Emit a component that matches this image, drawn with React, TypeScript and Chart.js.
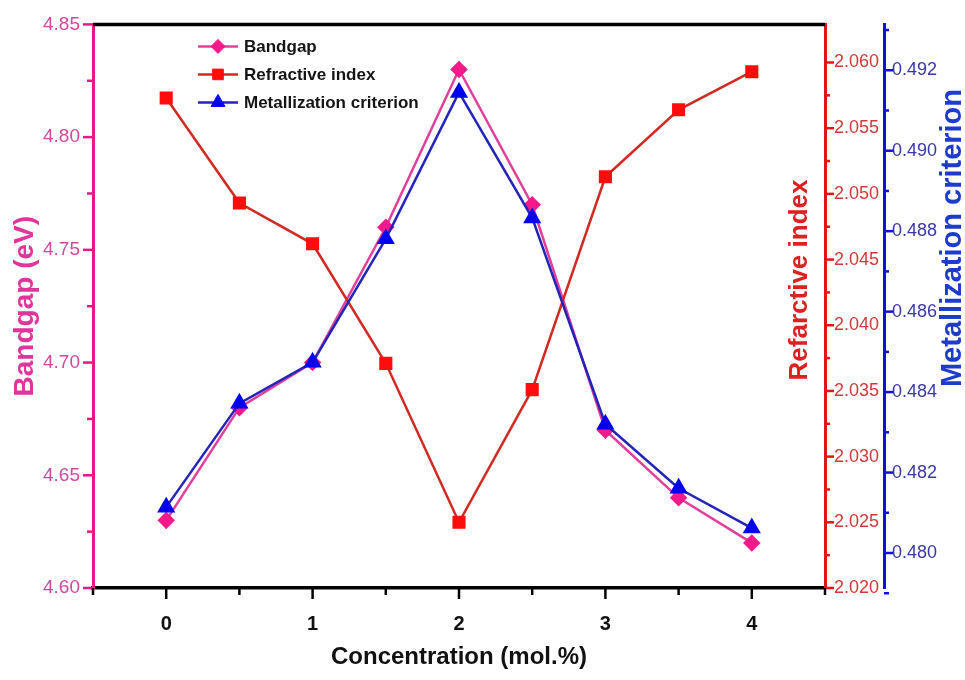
import React, { useEffect, useRef } from 'react';
import { Chart, registerables } from 'chart.js';
import { drawPoint } from 'chart.js/helpers';

Chart.register(...registerables);

// Measured values versus dopant concentration
const CONCENTRATION = [0, 0.5, 1, 1.5, 2, 2.5, 3, 3.5, 4];
const BANDGAP = [4.63, 4.68, 4.7, 4.76, 4.83, 4.77, 4.67, 4.64, 4.62];
const REFRACTIVE = [2.0573, 2.0493, 2.0462, 2.0371, 2.025, 2.0351, 2.0513, 2.0564, 2.0593];
const METALLIZATION = [0.48114, 0.48372, 0.48474, 0.48781, 0.49145, 0.48833, 0.4832, 0.48161, 0.48062];

// Axis tick positions
const X_TICKS = [0, 1, 2, 3, 4];
const BANDGAP_TICKS = [4.6, 4.65, 4.7, 4.75, 4.8, 4.85];
const REFRACTIVE_TICKS = [2.02, 2.025, 2.03, 2.035, 2.04, 2.045, 2.05, 2.055, 2.06];
const METALLIZATION_TICKS = [0.48, 0.482, 0.484, 0.486, 0.488, 0.49, 0.492];

const FONT = "'Liberation Sans', Arial, Helvetica, sans-serif";

const PINK = '#e8178a';
const PINK_LINE = '#e0409c';
const PINK_TEXT = '#cf4a9e';
const RED = '#e31414';
const RED_LINE = '#d02a22';
const RED_TEXT = '#d23a3a';
const BLUE = '#1212d6';
const BLUE_LINE = '#2424b8';
const BLUE_TEXT = '#3838a6';

const toPoints = (ys: number[]) => CONCENTRATION.map((x, i) => ({ x, y: ys[i] }));

const midpoints = (arr: number[]) => arr.slice(0, -1).map((v, i) => (v + arr[i + 1]) / 2);

// Outward tick marks (major + minor) for every axis
const tickMarks = {
  id: 'tickMarks',
  afterDraw(chart: any) {
    const ctx = chart.ctx;
    const { x, y, y1, y2 } = chart.scales;
    ctx.save();
    ctx.lineCap = 'butt';
    const vertical = (scale: any, values: number[], len: number, dir: number, color: string, edge: number) => {
      ctx.strokeStyle = color;
      ctx.lineWidth = 2.5;
      values.forEach((v) => {
        const py = scale.getPixelForValue(v);
        ctx.beginPath();
        ctx.moveTo(edge, py);
        ctx.lineTo(edge + dir * len, py);
        ctx.stroke();
      });
    };
    vertical(y, BANDGAP_TICKS, 10, -1, PINK, y.right);
    vertical(y, midpoints(BANDGAP_TICKS), 6, -1, PINK, y.right);
    vertical(y1, REFRACTIVE_TICKS, 9, 1, RED, y1.left);
    vertical(y1, midpoints(REFRACTIVE_TICKS), 5, 1, RED, y1.left);
    vertical(y2, METALLIZATION_TICKS, 9, 1, BLUE, y2.left);
    vertical(y2, [0.479, ...midpoints(METALLIZATION_TICKS), 0.493], 5, 1, BLUE, y2.left);

    ctx.strokeStyle = '#000';
    ctx.lineWidth = 2.5;
    const xMinor = [x.min, ...midpoints(X_TICKS), x.max];
    X_TICKS.forEach((v) => {
      const px = x.getPixelForValue(v);
      ctx.beginPath();
      ctx.moveTo(px, x.top);
      ctx.lineTo(px, x.top + 11);
      ctx.stroke();
    });
    xMinor.forEach((v) => {
      const px = x.getPixelForValue(v);
      ctx.beginPath();
      ctx.moveTo(px, x.top);
      ctx.lineTo(px, x.top + 7);
      ctx.stroke();
    });

    // top frame line
    const area = chart.chartArea;
    ctx.lineWidth = 3.5;
    ctx.beginPath();
    ctx.moveTo(area.left, area.top);
    ctx.lineTo(area.right, area.top);
    ctx.stroke();
    ctx.restore();
  },
};

// Rotated titles for the two right-hand axes
const rightTitles = {
  id: 'rightTitles',
  afterDraw(chart: any) {
    const ctx = chart.ctx;
    const { y1, y2 } = chart.scales;
    const draw = (text: string, cx: number, cy: number, color: string, size: number) => {
      ctx.save();
      ctx.translate(cx, cy);
      ctx.rotate(-Math.PI / 2);
      ctx.font = `bold ${size}px ${FONT}`;
      ctx.fillStyle = color;
      ctx.textAlign = 'center';
      ctx.textBaseline = 'middle';
      ctx.fillText(text, 0, 0);
      ctx.restore();
    };
    draw('Refarctive index', y1.left - 25, 280, '#dd2020', 26);
    draw('Metallization criterion', y2.right - 12, 238, '#1e3ccc', 29);
  },
};

// Line-marker-line legend in the upper left of the plot
const lineLegend = {
  id: 'lineLegend',
  afterDraw(chart: any) {
    const ctx = chart.ctx;
    const area = chart.chartArea;
    const x0 = area.left + 105;
    const y0 = area.top + 22;
    const rowGap = 28;
    const entries = [0, 1, 2].map((i) => chart.data.datasets[i]);
    entries.forEach((ds: any, i: number) => {
      const yy = y0 + i * rowGap;
      ctx.save();
      ctx.strokeStyle = ds.borderColor;
      ctx.lineWidth = 2.5;
      ctx.beginPath();
      ctx.moveTo(x0, yy);
      ctx.lineTo(x0 + 40, yy);
      ctx.stroke();
      ctx.fillStyle = ds.pointBackgroundColor;
      ctx.strokeStyle = ds.pointBorderColor;
      ctx.lineWidth = 1;
      drawPoint(ctx, { pointStyle: ds.pointStyle, radius: ds.pointRadius, rotation: 0, borderWidth: 1 }, x0 + 20, yy);
      ctx.font = `bold 17px ${FONT}`;
      ctx.fillStyle = '#141414';
      ctx.textAlign = 'left';
      ctx.textBaseline = 'middle';
      ctx.fillText(ds.label, x0 + 46, yy + 1);
      ctx.restore();
    });
  },
};

export default function App() {
  const ref = useRef<HTMLCanvasElement>(null);

  useEffect(() => {
    if (!ref.current) return;
    Chart.defaults.font.family = FONT;
    const chart = new Chart(ref.current, {
      type: 'line',
      data: {
        datasets: [
          {
            label: 'Bandgap',
            data: toPoints(BANDGAP),
            yAxisID: 'y',
            borderColor: PINK_LINE,
            borderWidth: 2.5,
            pointStyle: 'rectRot',
            pointRadius: 7,
            pointBackgroundColor: '#f41a8c',
            pointBorderColor: '#f41a8c',
            order: 3,
          },
          {
            label: 'Refractive index',
            data: toPoints(REFRACTIVE),
            yAxisID: 'y1',
            borderColor: RED_LINE,
            borderWidth: 2.5,
            pointStyle: 'rect',
            pointRadius: 7.5,
            pointBackgroundColor: '#ff0c0c',
            pointBorderColor: '#ff0c0c',
            order: 2,
          },
          {
            label: 'Metallization criterion',
            data: toPoints(METALLIZATION),
            yAxisID: 'y2',
            borderColor: BLUE_LINE,
            borderWidth: 2.5,
            pointStyle: 'triangle',
            pointRadius: 8,
            pointBackgroundColor: '#0000f0',
            pointBorderColor: '#0000f0',
            order: 1,
          },
        ],
      },
      options: {
        responsive: false,
        animation: false,
        layout: { padding: { top: 23, left: 0, right: 0, bottom: 0 } },
        plugins: {
          legend: { display: false },
          tooltip: { enabled: false },
        },
        scales: {
          x: {
            type: 'linear',
            position: 'bottom',
            min: -0.5,
            max: 4.5,
            grid: { display: false, drawTicks: false },
            border: { display: true, color: '#000', width: 3.5 },
            afterBuildTicks: (s: any) => {
              s.ticks = X_TICKS.map((v) => ({ value: v }));
            },
            afterFit: (s: any) => {
              s.height = 92;
            },
            ticks: {
              autoSkip: false,
              maxRotation: 0,
              padding: 24,
              color: '#111',
              font: { size: 20, weight: 'bold' },
              callback: (v: any) => String(v),
            },
            title: {
              display: true,
              text: 'Concentration (mol.%)',
              color: '#111',
              font: { size: 24, weight: 'bold' },
              padding: { top: 0, bottom: 8 },
            },
          },
          y: {
            type: 'linear',
            position: 'left',
            min: 4.6,
            max: 4.85,
            grid: { display: false, drawTicks: false },
            border: { display: true, color: PINK, width: 3 },
            afterBuildTicks: (s: any) => {
              s.ticks = BANDGAP_TICKS.map((v) => ({ value: v }));
            },
            afterFit: (s: any) => {
              s.width = 93;
            },
            ticks: {
              padding: 13,
              color: PINK_TEXT,
              font: { size: 19 },
              callback: (v: any) => Number(v).toFixed(2),
            },
            title: {
              display: true,
              text: 'Bandgap (eV)',
              color: '#e0359a',
              font: { size: 28, weight: 'bold' },
              padding: { top: 8, bottom: 0 },
            },
          },
          y1: {
            type: 'linear',
            position: 'right',
            min: 2.02,
            max: 2.0629,
            grid: { display: false, drawTicks: false },
            border: { display: true, color: RED, width: 3 },
            afterBuildTicks: (s: any) => {
              s.ticks = REFRACTIVE_TICKS.map((v) => ({ value: v }));
            },
            afterFit: (s: any) => {
              s.width = 59;
            },
            ticks: {
              padding: 9,
              color: RED_TEXT,
              font: { size: 18 },
              callback: (v: any) => Number(v).toFixed(3),
            },
          },
          y2: {
            type: 'linear',
            position: 'right',
            min: 0.47913,
            max: 0.49314,
            grid: { display: false, drawTicks: false },
            border: { display: true, color: BLUE, width: 3 },
            afterBuildTicks: (s: any) => {
              s.ticks = METALLIZATION_TICKS.map((v) => ({ value: v }));
            },
            afterFit: (s: any) => {
              s.width = 81;
            },
            ticks: {
              padding: 8,
              color: BLUE_TEXT,
              font: { size: 18 },
              callback: (v: any) => Number(v).toFixed(3),
            },
          },
        },
      } as any,
      plugins: [tickMarks, rightTitles, lineLegend],
    });
    return () => chart.destroy();
  }, []);

  return (
    <div style={{ position: 'absolute', left: 0, top: 0, width: 965, height: 680, background: '#fff' }}>
      <canvas ref={ref} width={965} height={680} style={{ width: 965, height: 680, display: 'block' }} />
    </div>
  );
}
